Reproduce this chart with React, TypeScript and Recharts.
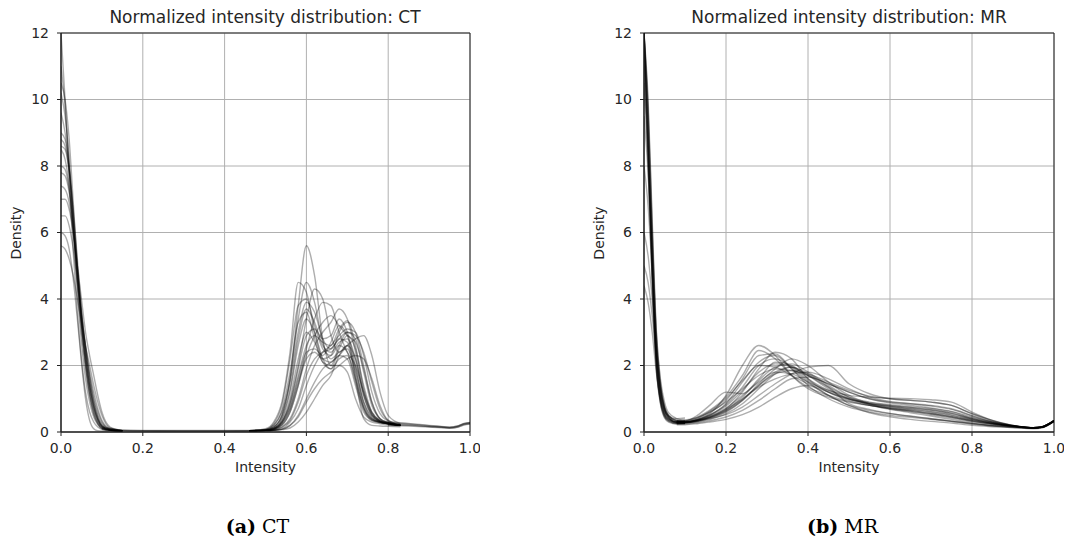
import { CartesianGrid, Line, LineChart, ReferenceArea, XAxis, YAxis } from 'recharts'

const xTicks = [0, 0.2, 0.4, 0.6, 0.8, 1.0]
const yTicks = [0, 2, 4, 6, 8, 10, 12]

// CT: steep low-intensity spike
const ctSpikeX = [0, 0.01, 0.02, 0.03, 0.04, 0.05, 0.06, 0.07, 0.08, 0.09, 0.1, 0.12, 0.15]
const ctSpikeCurves = [
  [12.0, 10.0, 7.6, 5.4, 3.6, 2.2, 1.2, 0.6, 0.3, 0.15, 0.08, 0.04, 0.03],
  [11.0, 9.8, 8.0, 6.0, 4.2, 2.7, 1.6, 0.9, 0.45, 0.22, 0.1, 0.05, 0.03],
  [10.2, 9.5, 8.2, 6.4, 4.5, 3.0, 1.9, 1.1, 0.55, 0.26, 0.12, 0.05, 0.03],
  [9.6, 9.0, 7.9, 6.3, 4.6, 3.2, 2.1, 1.3, 0.7, 0.35, 0.16, 0.06, 0.03],
  [8.6, 8.5, 7.8, 6.5, 4.9, 3.4, 2.3, 1.4, 0.8, 0.4, 0.18, 0.06, 0.03],
  [8.5, 8.2, 7.4, 6.1, 4.6, 3.2, 2.1, 1.2, 0.65, 0.3, 0.14, 0.05, 0.03],
  [7.8, 7.7, 7.2, 6.2, 4.9, 3.6, 2.5, 1.6, 0.95, 0.5, 0.24, 0.08, 0.03],
  [7.0, 7.0, 6.7, 6.0, 5.0, 4.0, 3.0, 2.3, 1.7, 1.1, 0.6, 0.15, 0.04],
  [6.5, 6.5, 6.2, 5.5, 4.5, 3.5, 2.6, 1.8, 1.2, 0.7, 0.35, 0.1, 0.04],
  [6.0, 5.9, 5.5, 4.6, 3.4, 2.1, 1.0, 0.35, 0.1, 0.04, 0.03, 0.03, 0.03],
  [5.6, 5.5, 5.2, 4.7, 4.0, 3.3, 2.6, 2.0, 1.4, 0.9, 0.5, 0.12, 0.04],
  [9.0, 8.8, 8.0, 6.6, 5.0, 3.5, 2.3, 1.4, 0.75, 0.36, 0.16, 0.06, 0.03],
  [10.5, 10.0, 8.8, 6.9, 5.0, 3.3, 2.0, 1.1, 0.55, 0.25, 0.11, 0.05, 0.03],
  [8.0, 7.9, 7.3, 6.2, 4.8, 3.4, 2.3, 1.4, 0.8, 0.4, 0.18, 0.06, 0.03],
  [8.8, 8.6, 7.9, 6.7, 5.2, 3.7, 2.5, 1.6, 0.9, 0.45, 0.2, 0.07, 0.03],
  [7.4, 7.3, 6.9, 6.0, 4.8, 3.6, 2.6, 1.7, 1.05, 0.6, 0.3, 0.09, 0.04],
]

// CT: flat floor between the two modes
const ctFloorX = [0.1, 0.15, 0.2, 0.3, 0.4, 0.48]
const ctFloorCurves = [
  [0.12, 0.05, 0.04, 0.035, 0.035, 0.04],
  [0.1, 0.04, 0.03, 0.03, 0.03, 0.035],
  [0.15, 0.06, 0.05, 0.045, 0.045, 0.05],
  [0.08, 0.035, 0.025, 0.025, 0.025, 0.03],
]

// CT: soft-tissue peaks
const ctPeakX = [0.46, 0.5, 0.52, 0.54, 0.56, 0.58, 0.6, 0.62, 0.64, 0.66, 0.68, 0.7, 0.72, 0.74, 0.76, 0.78, 0.8, 0.83]
const ctPeakCurves = [
  [0.04, 0.06, 0.15, 0.5, 1.6, 3.8, 5.6, 4.7, 2.8, 2.0, 2.0, 1.8, 1.0, 0.45, 0.3, 0.25, 0.22, 0.2],
  [0.04, 0.1, 0.3, 0.9, 2.4, 4.5, 4.2, 3.0, 2.2, 2.1, 2.3, 2.2, 1.4, 0.6, 0.35, 0.28, 0.24, 0.2],
  [0.04, 0.07, 0.2, 0.6, 1.6, 3.4, 4.5, 3.9, 2.7, 2.2, 2.4, 2.5, 1.8, 0.8, 0.4, 0.3, 0.25, 0.2],
  [0.04, 0.05, 0.1, 0.3, 0.9, 2.0, 3.4, 4.3, 4.0, 2.9, 2.4, 2.6, 2.2, 1.1, 0.5, 0.32, 0.26, 0.2],
  [0.04, 0.05, 0.08, 0.2, 0.6, 1.4, 2.5, 3.4, 3.9, 3.8, 3.0, 2.4, 2.0, 1.2, 0.6, 0.35, 0.27, 0.2],
  [0.04, 0.04, 0.06, 0.15, 0.4, 1.0, 1.9, 2.6, 3.0, 3.3, 3.7, 3.4, 2.4, 1.2, 0.55, 0.33, 0.27, 0.2],
  [0.04, 0.04, 0.05, 0.1, 0.3, 0.7, 1.4, 2.0, 2.4, 2.6, 2.9, 3.1, 3.0, 2.3, 1.2, 0.55, 0.32, 0.22],
  [0.04, 0.04, 0.05, 0.08, 0.2, 0.5, 1.0, 1.5, 1.9, 2.1, 2.3, 2.6, 2.8, 2.9, 2.3, 1.2, 0.5, 0.25],
  [0.04, 0.05, 0.1, 0.3, 0.8, 1.7, 2.6, 2.9, 2.7, 2.6, 3.1, 3.35, 2.6, 1.3, 0.55, 0.33, 0.27, 0.2],
  [0.03, 0.04, 0.05, 0.07, 0.12, 0.3, 0.6, 1.0, 1.4, 1.7, 2.3, 2.6, 1.6, 0.4, 0.2, 0.18, 0.17, 0.16],
  [0.04, 0.05, 0.12, 0.4, 1.2, 2.6, 3.4, 3.0, 2.2, 1.9, 2.5, 2.9, 2.5, 1.4, 0.6, 0.35, 0.27, 0.2],
  [0.04, 0.06, 0.15, 0.5, 1.5, 3.0, 3.9, 3.6, 2.8, 2.5, 2.8, 2.7, 1.9, 0.9, 0.45, 0.3, 0.25, 0.2],
  [0.04, 0.05, 0.1, 0.35, 1.0, 2.2, 3.0, 2.7, 2.1, 2.0, 2.6, 3.0, 2.8, 1.8, 0.8, 0.4, 0.28, 0.2],
  [0.04, 0.04, 0.07, 0.2, 0.6, 1.4, 2.2, 2.4, 2.2, 2.3, 3.0, 3.3, 3.0, 2.0, 0.9, 0.4, 0.28, 0.2],
  [0.04, 0.04, 0.05, 0.08, 0.2, 0.45, 0.9, 1.3, 1.6, 1.8, 2.0, 2.2, 2.3, 2.2, 1.6, 0.8, 0.35, 0.22],
  [0.04, 0.05, 0.09, 0.25, 0.7, 1.6, 2.4, 2.5, 2.3, 2.7, 3.2, 2.9, 1.7, 0.7, 0.35, 0.28, 0.25, 0.2],
  [0.04, 0.08, 0.25, 0.8, 2.2, 3.8, 4.0, 3.2, 2.5, 2.3, 2.6, 2.4, 1.5, 0.7, 0.38, 0.3, 0.25, 0.2],
  [0.04, 0.05, 0.08, 0.25, 0.7, 1.5, 2.3, 2.9, 3.3, 3.5, 3.2, 2.9, 2.7, 1.9, 0.9, 0.4, 0.28, 0.2],
  [0.04, 0.06, 0.14, 0.45, 1.3, 2.8, 3.7, 3.3, 2.6, 2.4, 2.7, 2.8, 2.2, 1.1, 0.5, 0.32, 0.26, 0.2],
  [0.04, 0.05, 0.1, 0.3, 0.85, 1.9, 2.9, 3.1, 2.8, 2.9, 3.4, 3.0, 2.0, 0.9, 0.42, 0.3, 0.25, 0.2],
  [0.04, 0.04, 0.06, 0.14, 0.35, 0.9, 1.7, 2.2, 2.4, 2.5, 2.8, 3.0, 2.9, 2.4, 1.5, 0.7, 0.35, 0.22],
  [0.04, 0.07, 0.2, 0.65, 1.8, 3.3, 3.6, 2.8, 2.1, 1.9, 2.2, 2.3, 1.6, 0.75, 0.38, 0.3, 0.25, 0.2],
]

// CT: high-intensity tail
const ctTailX = [0.8, 0.85, 0.9, 0.93, 0.95, 0.97, 0.985, 1.0]
const ctTailCurves = [
  [0.22, 0.2, 0.16, 0.14, 0.12, 0.15, 0.22, 0.25],
  [0.25, 0.22, 0.17, 0.15, 0.13, 0.17, 0.24, 0.27],
  [0.28, 0.24, 0.19, 0.16, 0.14, 0.18, 0.25, 0.28],
  [0.2, 0.18, 0.15, 0.13, 0.11, 0.14, 0.21, 0.24],
  [0.3, 0.26, 0.2, 0.17, 0.15, 0.18, 0.26, 0.29],
]

// MR: low-intensity spike
const mrSpikeX = [0, 0.01, 0.02, 0.03, 0.04, 0.05, 0.06, 0.08, 0.1]
const mrSpikeCurves = [
  [12.0, 8.6, 4.8, 2.0, 0.9, 0.45, 0.32, 0.26, 0.27],
  [12.0, 9.4, 5.6, 2.4, 1.05, 0.55, 0.38, 0.3, 0.3],
  [11.5, 8.8, 5.3, 2.5, 1.15, 0.6, 0.4, 0.3, 0.3],
  [11.0, 8.0, 4.6, 2.0, 0.9, 0.48, 0.34, 0.25, 0.26],
  [10.5, 8.4, 5.7, 2.9, 1.4, 0.72, 0.45, 0.3, 0.28],
  [12.0, 10.0, 6.4, 3.1, 1.5, 0.78, 0.5, 0.33, 0.3],
  [9.5, 7.8, 5.2, 2.6, 1.25, 0.65, 0.42, 0.28, 0.27],
  [5.0, 4.5, 3.5, 2.2, 1.2, 0.65, 0.44, 0.3, 0.3],
  [4.4, 3.9, 3.0, 1.8, 1.0, 0.56, 0.4, 0.3, 0.3],
  [6.0, 5.3, 4.0, 2.5, 1.35, 0.75, 0.5, 0.35, 0.32],
  [12.0, 9.0, 5.2, 2.3, 1.1, 0.65, 0.48, 0.4, 0.42],
  [8.0, 6.8, 4.8, 2.6, 1.35, 0.72, 0.48, 0.34, 0.3],
  [12.0, 9.6, 6.0, 3.0, 1.6, 0.9, 0.58, 0.4, 0.35],
  [12.0, 8.2, 4.4, 1.9, 0.85, 0.42, 0.3, 0.24, 0.25],
  [12.0, 9.0, 5.0, 2.1, 0.95, 0.5, 0.35, 0.28, 0.28],
  [11.8, 8.4, 4.9, 2.2, 1.0, 0.52, 0.36, 0.28, 0.29],
  [12.0, 9.8, 6.2, 2.8, 1.3, 0.7, 0.45, 0.32, 0.3],
]

// MR: broad tissue mode and tail
const mrBodyX = [0.08, 0.1, 0.13, 0.16, 0.2, 0.24, 0.28, 0.32, 0.36, 0.4, 0.45, 0.5, 0.55, 0.6, 0.65, 0.7, 0.75, 0.8, 0.85, 0.9, 0.95, 0.97, 1.0]
const mrBodyCurves = [
  [0.3, 0.3, 0.38, 0.55, 1.1, 2.0, 2.6, 2.3, 1.7, 1.3, 1.05, 0.9, 0.8, 0.72, 0.65, 0.55, 0.45, 0.32, 0.24, 0.18, 0.13, 0.15, 0.34],
  [0.3, 0.3, 0.35, 0.45, 0.7, 1.2, 1.9, 2.4, 2.2, 1.6, 1.2, 0.95, 0.8, 0.7, 0.62, 0.52, 0.42, 0.32, 0.24, 0.18, 0.13, 0.15, 0.34],
  [0.28, 0.28, 0.36, 0.5, 0.85, 1.5, 2.1, 2.3, 1.9, 1.5, 1.1, 0.8, 0.65, 0.55, 0.48, 0.4, 0.33, 0.26, 0.2, 0.16, 0.12, 0.14, 0.33],
  [0.3, 0.3, 0.34, 0.42, 0.6, 0.95, 1.45, 1.9, 2.2, 2.0, 1.5, 1.1, 0.85, 0.7, 0.62, 0.55, 0.45, 0.35, 0.26, 0.18, 0.13, 0.15, 0.34],
  [0.3, 0.3, 0.33, 0.4, 0.52, 0.75, 1.1, 1.45, 1.75, 1.95, 2.0, 1.45, 1.15, 1.0, 0.95, 0.9, 0.8, 0.55, 0.35, 0.2, 0.13, 0.15, 0.34],
  [0.32, 0.33, 0.5, 0.8, 1.2, 1.15, 1.6, 2.1, 2.0, 1.6, 1.25, 1.0, 0.85, 0.75, 0.68, 0.6, 0.5, 0.36, 0.25, 0.18, 0.13, 0.15, 0.34],
  [0.25, 0.25, 0.28, 0.34, 0.45, 0.65, 0.95, 1.3, 1.6, 1.65, 1.45, 1.2, 1.0, 0.9, 0.85, 0.8, 0.7, 0.5, 0.3, 0.18, 0.12, 0.14, 0.33],
  [0.22, 0.22, 0.25, 0.3, 0.38, 0.52, 0.75, 1.05, 1.3, 1.4, 1.1, 0.8, 0.58, 0.46, 0.38, 0.32, 0.27, 0.2, 0.16, 0.13, 0.1, 0.12, 0.32],
  [0.3, 0.3, 0.36, 0.48, 0.72, 1.1, 1.5, 1.8, 1.75, 1.5, 1.25, 1.1, 1.05, 1.02, 1.0, 0.97, 0.9, 0.6, 0.35, 0.2, 0.13, 0.15, 0.34],
  [0.3, 0.31, 0.4, 0.58, 0.95, 1.6, 2.3, 2.35, 1.9, 1.4, 1.0, 0.75, 0.6, 0.5, 0.44, 0.38, 0.32, 0.25, 0.19, 0.15, 0.12, 0.14, 0.33],
  [0.28, 0.28, 0.33, 0.44, 0.66, 1.05, 1.55, 1.95, 2.05, 1.8, 1.4, 1.05, 0.82, 0.68, 0.58, 0.48, 0.38, 0.28, 0.2, 0.15, 0.12, 0.14, 0.33],
  [0.35, 0.36, 0.44, 0.6, 0.9, 1.3, 1.7, 1.9, 1.85, 1.7, 1.45, 1.2, 1.0, 0.88, 0.8, 0.72, 0.62, 0.45, 0.3, 0.2, 0.13, 0.15, 0.34],
  [0.26, 0.27, 0.3, 0.38, 0.55, 0.85, 1.3, 1.75, 1.95, 1.75, 1.35, 0.85, 0.68, 0.56, 0.47, 0.4, 0.32, 0.24, 0.18, 0.14, 0.11, 0.13, 0.32],
  [0.32, 0.33, 0.42, 0.62, 1.0, 1.55, 2.0, 1.95, 1.7, 1.45, 1.2, 1.0, 0.88, 0.8, 0.74, 0.66, 0.56, 0.4, 0.27, 0.18, 0.13, 0.15, 0.34],
  [0.3, 0.3, 0.36, 0.5, 0.78, 1.25, 1.8, 2.05, 1.95, 1.7, 1.35, 1.05, 0.9, 0.82, 0.76, 0.7, 0.6, 0.42, 0.28, 0.18, 0.13, 0.15, 0.34],
  [0.28, 0.29, 0.35, 0.46, 0.68, 1.0, 1.35, 1.6, 1.75, 1.8, 1.6, 1.3, 1.05, 0.92, 0.85, 0.78, 0.68, 0.48, 0.3, 0.18, 0.12, 0.14, 0.33],
  [0.3, 0.3, 0.37, 0.52, 0.82, 1.35, 2.0, 2.2, 1.95, 1.55, 1.2, 0.98, 0.85, 0.77, 0.7, 0.62, 0.52, 0.38, 0.26, 0.18, 0.13, 0.15, 0.34],
  [0.27, 0.27, 0.32, 0.42, 0.62, 0.95, 1.4, 1.8, 1.95, 1.7, 1.3, 1.0, 0.85, 0.78, 0.72, 0.66, 0.56, 0.4, 0.27, 0.17, 0.12, 0.14, 0.33],
  [0.33, 0.34, 0.45, 0.65, 1.05, 1.7, 2.45, 2.2, 1.7, 1.35, 1.1, 0.92, 0.8, 0.72, 0.65, 0.57, 0.47, 0.34, 0.24, 0.17, 0.12, 0.14, 0.33],
  [0.29, 0.29, 0.34, 0.44, 0.64, 0.98, 1.4, 1.75, 1.85, 1.75, 1.5, 1.25, 1.08, 1.0, 0.95, 0.9, 0.8, 0.55, 0.33, 0.19, 0.13, 0.15, 0.34],
]

interface CurveGroup {
  xs: number[]
  curves: number[][]
}

const ctGroups: CurveGroup[] = [
  { xs: ctFloorX, curves: ctFloorCurves },
  { xs: ctTailX, curves: ctTailCurves },
  { xs: ctPeakX, curves: ctPeakCurves },
  { xs: ctSpikeX, curves: ctSpikeCurves },
]
const mrGroups: CurveGroup[] = [
  { xs: mrBodyX, curves: mrBodyCurves },
  { xs: mrSpikeX, curves: mrSpikeCurves },
]

const toPoints = (xs: number[], ys: number[]) => xs.map((x, i) => ({ x, y: ys[i] }))

const tickStyle = { fill: '#262626', fontSize: 14, fontFamily: 'DejaVu Sans' }

function DensityPanel({ left, width, groups }: { left: number; width: number; groups: CurveGroup[] }) {
  const series = groups.flatMap((g) => g.curves.map((c) => toPoints(g.xs, c)))
  return (
    <div style={{ position: 'absolute', left, top: 0 }}>
      <LineChart width={width} height={480} margin={{ top: 33, right: 10, bottom: 18, left: 21 }}>
        <CartesianGrid stroke="#b0b0b0" strokeWidth={1} />
        <XAxis
          type="number"
          dataKey="x"
          domain={[0, 1]}
          ticks={xTicks}
          allowDataOverflow
          tickFormatter={(v: number) => v.toFixed(1)}
          height={30}
          tickSize={4}
          tickMargin={7}
          stroke="#222"
          tick={tickStyle}
        />
        <YAxis
          type="number"
          domain={[0, 12]}
          ticks={yTicks}
          allowDataOverflow
          width={40}
          tickSize={4}
          tickMargin={8}
          stroke="#222"
          tick={tickStyle}
        />
        {series.map((pts, i) => (
          <Line
            key={i}
            data={pts}
            dataKey="y"
            type="monotone"
            stroke="#000"
            strokeOpacity={0.32}
            strokeWidth={1.4}
            dot={false}
            activeDot={false}
            isAnimationActive={false}
          />
        ))}
        <ReferenceArea x1={0} x2={1} y1={0} y2={12} fill="none" stroke="#222" strokeWidth={1} />
      </LineChart>
    </div>
  )
}

export default function App() {
  const sans = 'DejaVu Sans'
  const serif = 'DejaVu Serif'
  return (
    <div style={{ position: 'absolute', left: 0, top: 0, width: 1068, height: 547, background: '#fff' }}>
      <DensityPanel left={0} width={480} groups={ctGroups} />
      <DensityPanel left={583} width={481} groups={mrGroups} />
      <svg
        width={1068}
        height={547}
        style={{ position: 'absolute', left: 0, top: 0, pointerEvents: 'none' }}
      >
        <g fill="#262626" fontFamily={sans}>
          <text x={265} y={22.5} fontSize={17} textAnchor="middle">
            Normalized intensity distribution: CT
          </text>
          <text x={849} y={22.5} fontSize={17} textAnchor="middle">
            Normalized intensity distribution: MR
          </text>
          <text x={265.5} y={472} fontSize={14} textAnchor="middle">
            Intensity
          </text>
          <text x={849} y={472} fontSize={14} textAnchor="middle">
            Intensity
          </text>
          <text x={21} y={233} fontSize={14} textAnchor="middle" transform="rotate(-90 21 233)">
            Density
          </text>
          <text x={604} y={233} fontSize={14} textAnchor="middle" transform="rotate(-90 604 233)">
            Density
          </text>
        </g>
        <g fill="#000" fontFamily={serif} fontSize={19}>
          <text x={257.5} y={533} textAnchor="middle">
            <tspan fontWeight="bold">(a)</tspan> CT
          </text>
          <text x={842.5} y={533} textAnchor="middle">
            <tspan fontWeight="bold">(b)</tspan> MR
          </text>
        </g>
      </svg>
    </div>
  )
}
